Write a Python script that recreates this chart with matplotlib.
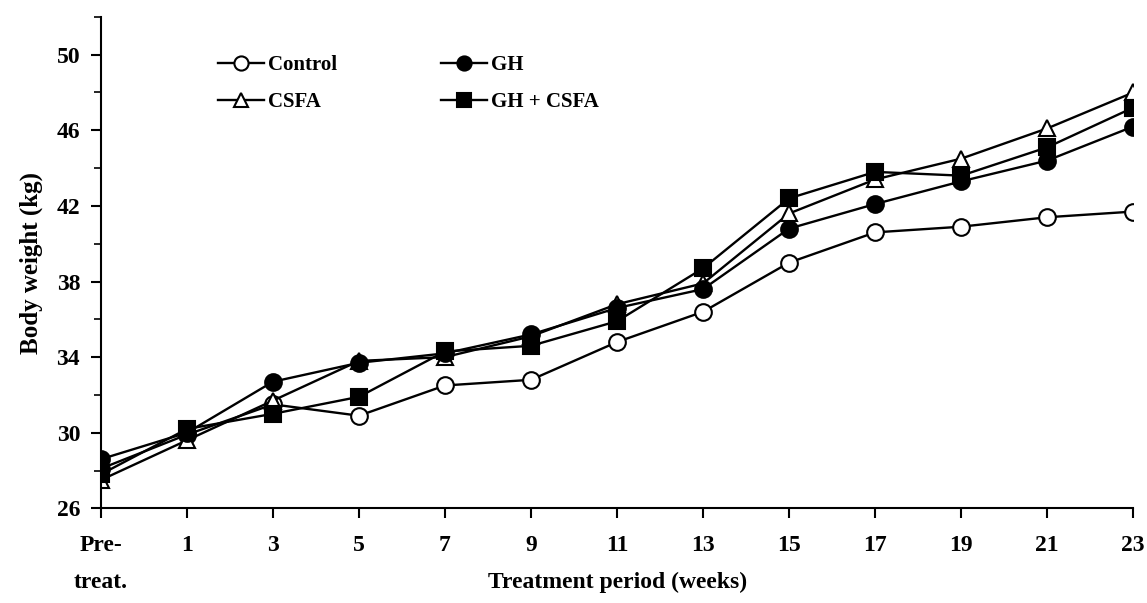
import matplotlib
matplotlib.use("Agg")
import matplotlib.pyplot as plt
from matplotlib.ticker import MultipleLocator

# data
periods = ["Pre-\ntreat.", "1", "3", "5", "7", "9", "11", "13", "15", "17", "19", "21", "23"]
control = [28.1, 29.9, 31.5, 30.9, 32.5, 32.8, 34.8, 36.4, 39.0, 40.6, 40.9, 41.4, 41.7]
gh = [28.6, 30.0, 32.7, 33.7, 34.2, 35.2, 36.6, 37.6, 40.8, 42.1, 43.3, 44.4, 46.2]
csfa = [27.5, 29.6, 31.7, 33.8, 34.0, 35.1, 36.8, 37.9, 41.6, 43.4, 44.5, 46.1, 48.0]
gh_csfa = [27.8, 30.2, 31.0, 31.9, 34.3, 34.6, 35.9, 38.7, 42.4, 43.8, 43.6, 45.1, 47.2]

plt.rcParams["font.family"] = ["Liberation Serif", "DejaVu Serif"]
plt.rcParams["font.weight"] = "bold"

fig = plt.figure(figsize=(11.47, 6.03), dpi=100)
ax = fig.add_axes([0.088, 0.157, 0.900, 0.815])

x = list(range(len(periods)))
style = dict(color="black", lw=1.7, ms=12, mew=1.5, mec="black")
ax.plot(x, control, marker="o", mfc="white", label="Control", **style)
ax.plot(x, csfa, marker="^", mfc="white", label="CSFA", **style)
ax.plot(x, gh, marker="o", mfc="black", label="GH", **style)
ax.plot(x, gh_csfa, marker="s", mfc="black", label="GH + CSFA", **style)

ax.set_xlim(0, len(periods) - 1)
ax.set_ylim(26, 52)
ax.set_yticks([26, 30, 34, 38, 42, 46, 50])
ax.yaxis.set_minor_locator(MultipleLocator(2))
ax.set_xticks(x)
ax.set_xticklabels(periods, fontsize=17, fontweight="bold", linespacing=2.0)
for lab in ax.get_yticklabels():
    lab.set_fontsize(17)
    lab.set_fontweight("bold")

ax.tick_params(axis="x", direction="out", length=7, width=1.5, pad=12)
ax.tick_params(axis="y", direction="out", length=7, width=1.5, pad=8)
ax.tick_params(axis="y", which="minor", direction="out", length=5, width=1.2)

for side in ("top", "right"):
    ax.spines[side].set_visible(False)
for side in ("left", "bottom"):
    ax.spines[side].set_linewidth(1.5)

ax.set_xlabel("Treatment period (weeks)", fontsize=17, fontweight="bold", labelpad=-15)
ax.set_ylabel("Body weight (kg)", fontsize=18, fontweight="bold", labelpad=10)

ax.legend(ncol=2, loc="upper left", bbox_to_anchor=(0.095, 0.96), frameon=False,
          prop={"size": 15, "weight": "bold"}, handlelength=2.2,
          handletextpad=0.2, columnspacing=5.0, labelspacing=0.8,
          markerscale=0.85)

fig.savefig("out.png", dpi=100)
